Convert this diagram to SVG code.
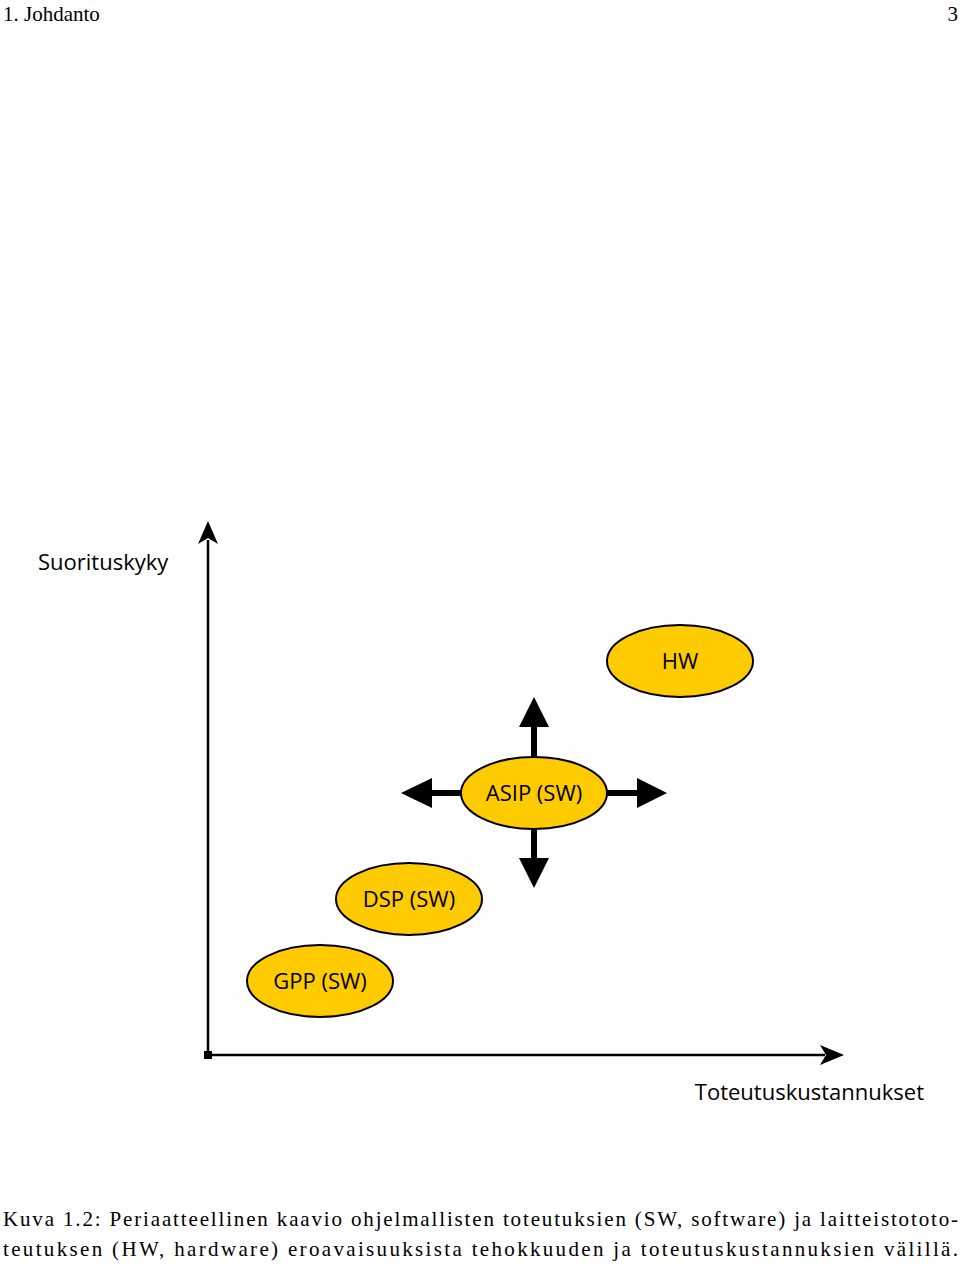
<svg xmlns="http://www.w3.org/2000/svg" width="960" height="1267" viewBox="0 0 960 1267">
<style>
.n{fill:#fecb00;stroke:#000;stroke-width:2}
.t{font-family:"Open Sans","DejaVu Sans",sans-serif;font-size:22px;fill:#000}
.c{font-family:"Liberation Serif",serif;font-size:21px;fill:#000}
.ax{stroke:#000;stroke-width:2.5;fill:none}
.th{stroke:#000;stroke-width:6;fill:none}
</style>
<rect width="960" height="1267" fill="#fff"/>
<text class="c" x="3" y="21">1.  Johdanto</text>
<text class="c" x="958" y="21" text-anchor="end">3</text>
<g id="connectors">
<line class="ax" x1="208" y1="1055" x2="208" y2="540"/>
<polygon points="208,521 198,544 208,538 218,544"/>
<line class="ax" x1="208" y1="1055" x2="825" y2="1055"/>
<polygon points="844,1055 820,1045 826,1055 820,1065"/>
<rect x="204" y="1051" width="8" height="8"/>
<line class="th" x1="534" y1="757" x2="534" y2="725"/>
<polygon points="534,697 519,727 549,727"/>
<line class="th" x1="534" y1="829" x2="534" y2="860"/>
<polygon points="534,888 519,858 549,858"/>
<line class="th" x1="461" y1="793" x2="430" y2="793"/>
<polygon points="401,793 432,778 432,808"/>
<line class="th" x1="607" y1="793" x2="639" y2="793"/>
<polygon points="667,793 637,778 637,808"/>
</g>
<text class="t" x="38" y="570">Suorituskyky</text>
<text class="t" x="924" y="1100" text-anchor="end">Toteutuskustannukset</text>
<g id="hw"><ellipse class="n" cx="680" cy="661" rx="73" ry="36"/><text class="t" x="680" y="669" text-anchor="middle">HW</text></g>
<g id="asip"><ellipse class="n" cx="534" cy="793" rx="73" ry="36"/><text class="t" x="534" y="801" text-anchor="middle">ASIP (SW)</text></g>
<g id="dsp"><ellipse class="n" cx="409" cy="899" rx="73" ry="36"/><text class="t" x="409" y="907" text-anchor="middle">DSP (SW)</text></g>
<g id="gpp"><ellipse class="n" cx="320" cy="981" rx="73" ry="36"/><text class="t" x="320" y="989" text-anchor="middle">GPP (SW)</text></g>
<text class="c" x="3" y="1226" textLength="955" lengthAdjust="spacing">Kuva 1.2: Periaatteellinen kaavio ohjelmallisten toteutuksien (SW, software) ja laitteistototo-</text>
<text class="c" x="3" y="1256" textLength="955" lengthAdjust="spacing">teutuksen (HW, hardware) eroavaisuuksista tehokkuuden ja toteutuskustannuksien välillä.</text>
</svg>
